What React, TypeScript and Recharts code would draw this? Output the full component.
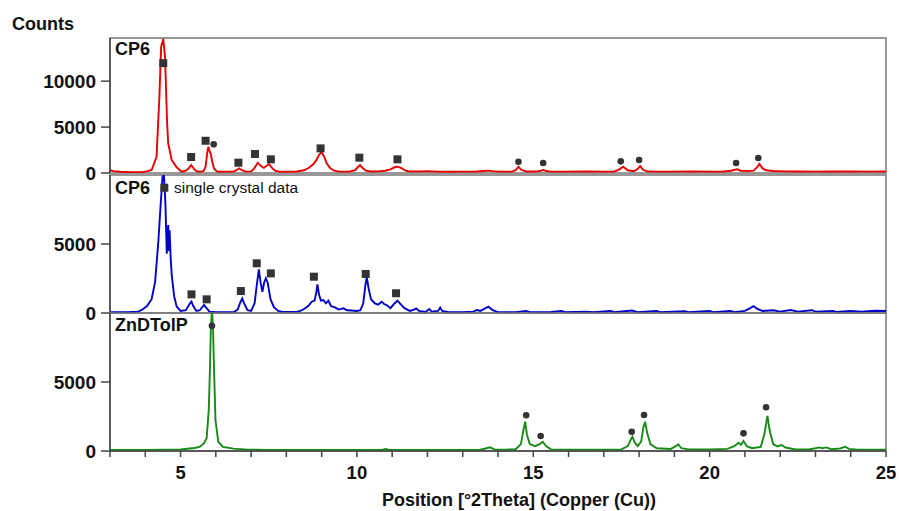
import { ComposedChart, Line, Scatter, XAxis, YAxis, ReferenceArea } from 'recharts';

// 2Theta / counts pairs
const cp6Pattern: [number, number][] = [
  [3.0, 300], [3.1, 200], [3.3, 130], [3.6, 90], [3.9, 100], [4.05, 180], [4.18, 330], [4.32, 1770],
  [4.4, 8290], [4.45, 13730], [4.51, 14600], [4.56, 12640], [4.59, 9020], [4.62, 5400], [4.65, 3230],
  [4.75, 1410], [4.89, 620], [5.03, 140], [5.15, 250], [5.22, 450], [5.3, 870], [5.38, 450], [5.45, 200],
  [5.55, 130], [5.65, 200], [5.71, 700], [5.76, 2300], [5.79, 2860], [5.82, 2400], [5.86, 2050],
  [5.9, 1200], [5.95, 500], [6.02, 200], [6.1, 130], [6.5, 150], [6.58, 300], [6.66, 510], [6.74, 300],
  [6.85, 150], [7.0, 180], [7.08, 450], [7.19, 1120], [7.28, 750], [7.36, 550], [7.44, 800], [7.51, 980],
  [7.58, 600], [7.68, 250], [7.8, 150], [8.0, 140], [8.3, 160], [8.5, 300], [8.65, 600], [8.76, 950],
  [8.85, 1400], [8.93, 2000], [9.0, 2250], [9.07, 1800], [9.15, 1000], [9.25, 500], [9.35, 250],
  [9.5, 150], [9.8, 170], [9.95, 300], [10.03, 650], [10.09, 870], [10.15, 600], [10.25, 250],
  [10.4, 170], [10.6, 180], [10.8, 250], [10.95, 400], [11.08, 650], [11.15, 690], [11.25, 550],
  [11.38, 250], [11.5, 170], [11.8, 180], [12.0, 190], [12.3, 150], [12.6, 140], [13.0, 150],
  [13.4, 170], [13.6, 220], [13.72, 260], [13.85, 200], [14.0, 150], [14.4, 150], [14.5, 300],
  [14.58, 690], [14.66, 350], [14.8, 170], [15.1, 170], [15.22, 250], [15.28, 330], [15.36, 220],
  [15.5, 150], [16.0, 150], [16.5, 160], [17.0, 150], [17.3, 170], [17.42, 350], [17.55, 690],
  [17.68, 300], [17.85, 200], [17.95, 400], [18.03, 760], [18.11, 350], [18.25, 160], [18.5, 150],
  [19.0, 150], [19.5, 160], [20.0, 150], [20.4, 170], [20.6, 250], [20.72, 350], [20.79, 400],
  [20.88, 250], [21.1, 200], [21.25, 250], [21.34, 600], [21.41, 980], [21.5, 500], [21.6, 300],
  [21.8, 220], [22.1, 180], [22.5, 160], [23.0, 150], [23.5, 170], [24.0, 160], [24.5, 150], [25.0, 160],
];

const singleCrystal: [number, number][] = [
  [3.0, 50], [3.5, 50], [3.8, 100], [3.9, 220], [4.05, 500], [4.18, 1000], [4.28, 2270], [4.37, 5170],
  [4.44, 8000], [4.49, 9900], [4.53, 9950], [4.57, 8000], [4.61, 4300], [4.65, 6380], [4.67, 4500],
  [4.69, 6000], [4.72, 4000], [4.75, 2750], [4.82, 1200], [4.89, 460], [5.0, 150], [5.15, 200],
  [5.22, 500], [5.27, 700], [5.31, 820], [5.36, 500], [5.45, 150], [5.55, 200], [5.62, 450], [5.67, 580],
  [5.72, 400], [5.82, 100], [6.0, 50], [6.5, 50], [6.62, 250], [6.7, 800], [6.75, 1060], [6.8, 700],
  [6.9, 200], [7.0, 150], [7.1, 700], [7.16, 2000], [7.22, 3170], [7.27, 2200], [7.32, 1540],
  [7.37, 2200], [7.42, 2510], [7.47, 2200], [7.55, 1000], [7.65, 400], [7.77, 150], [7.9, 80],
  [8.3, 80], [8.45, 200], [8.53, 340], [8.62, 500], [8.72, 820], [8.8, 900], [8.85, 1500], [8.88, 2080],
  [8.93, 1300], [8.98, 900], [9.05, 940], [9.12, 700], [9.19, 890], [9.27, 500], [9.38, 410],
  [9.48, 250], [9.55, 300], [9.62, 340], [9.72, 200], [9.85, 180], [10.0, 145], [10.1, 200],
  [10.18, 700], [10.24, 2000], [10.28, 2590], [10.33, 1800], [10.4, 1000], [10.51, 700], [10.6, 600],
  [10.7, 820], [10.77, 650], [10.84, 580], [10.95, 350], [11.05, 650], [11.15, 890], [11.25, 600],
  [11.35, 350], [11.5, 150], [11.62, 250], [11.68, 340], [11.76, 150], [11.95, 80], [12.05, 290],
  [12.12, 100], [12.3, 150], [12.36, 400], [12.42, 150], [12.6, 60], [13.0, 60], [13.3, 100],
  [13.4, 220], [13.5, 150], [13.65, 350], [13.73, 460], [13.85, 200], [14.0, 60], [14.5, 60],
  [14.8, 150], [14.9, 60], [15.5, 70], [15.8, 150], [15.9, 60], [16.5, 100], [16.7, 60], [17.2, 150],
  [17.3, 60], [17.8, 180], [17.95, 60], [18.5, 150], [18.6, 60], [19.3, 130], [19.4, 60], [20.0, 150],
  [20.1, 60], [20.6, 150], [20.7, 60], [21.0, 150], [21.15, 350], [21.24, 500], [21.35, 300],
  [21.5, 150], [21.8, 200], [22.0, 100], [22.3, 220], [22.5, 100], [22.9, 200], [23.0, 100],
  [23.5, 150], [23.6, 80], [24.0, 150], [24.3, 100], [24.7, 160], [25.0, 150],
];

const znDTolP: [number, number][] = [
  [3.0, 80], [4.0, 80], [5.0, 120], [5.13, 150], [5.4, 220], [5.55, 310], [5.66, 550], [5.74, 920],
  [5.8, 2970], [5.835, 6110], [5.86, 9000], [5.89, 10200], [5.92, 9000], [5.95, 5870], [5.99, 2250],
  [6.07, 670], [6.2, 300], [6.5, 170], [6.9, 100], [7.5, 80], [8.5, 80], [10.7, 80], [10.82, 150],
  [10.9, 80], [12.0, 80], [13.5, 90], [13.65, 180], [13.77, 270], [13.9, 120], [14.2, 100], [14.5, 130],
  [14.65, 500], [14.72, 1500], [14.77, 2120], [14.82, 1200], [14.9, 500], [15.05, 350], [15.18, 500],
  [15.27, 670], [15.36, 350], [15.5, 120], [16.0, 100], [17.0, 100], [17.5, 120], [17.68, 350],
  [17.76, 800], [17.81, 1040], [17.88, 600], [17.96, 350], [18.06, 700], [18.12, 1700], [18.17, 2120],
  [18.23, 1300], [18.32, 500], [18.5, 200], [18.9, 150], [19.04, 350], [19.11, 480], [19.2, 200],
  [19.4, 120], [20.0, 110], [20.5, 150], [20.7, 350], [20.82, 600], [20.89, 450], [20.96, 720],
  [21.05, 350], [21.2, 200], [21.45, 300], [21.55, 1200], [21.64, 2540], [21.7, 1500], [21.8, 500],
  [21.92, 330], [22.04, 430], [22.15, 250], [22.4, 130], [22.8, 110], [23.0, 200], [23.1, 260],
  [23.2, 200], [23.3, 260], [23.45, 130], [23.7, 180], [23.84, 310], [23.95, 150], [24.2, 100], [25.0, 100],
];

// reflection markers
const cp6Squares: [number, number][] = [
  [4.51, 11960], [5.3, 1740], [5.71, 3510], [6.64, 1120], [7.11, 2070], [7.56, 1490], [8.97, 2680],
  [10.07, 1670], [11.15, 1490],
];
const cp6Circles: [number, number][] = [
  [5.94, 3120], [14.58, 1230], [15.28, 1090], [17.48, 1270], [18.0, 1410], [20.75, 1090], [21.38, 1630],
];
const crystalSquares: [number, number][] = [
  [4.54, 9080], [5.31, 1350], [5.74, 990], [6.71, 1590], [7.16, 3600], [7.56, 2870], [8.78, 2630],
  [10.25, 2830], [11.11, 1430],
];
const znCircles: [number, number][] = [
  [5.89, 9080], [14.8, 2590], [15.21, 1090], [17.79, 1400], [18.14, 2610], [20.96, 1280], [21.6, 3170],
];

const xTicks = [3, 4, 5, 6, 7, 8, 9, 10, 11, 12, 13, 14, 15, 16, 17, 18, 19, 20, 21, 22, 23, 24, 25];
const xLabels = [5, 10, 15, 20, 25];
const yTicksTop = [0, 5000, 10000];
const yTicks = [0, 5000];

const FONT = '"Liberation Sans", Arial, sans-serif';
const W = 899;
const PLOT_LEFT = 110;
const PLOT_RIGHT = 886;

const toPts = (arr: [number, number][]) => arr.map(([x, y]) => ({ x, y }));

const Square = (p: any) => <rect x={p.cx - 4} y={p.cy - 4} width={8} height={8} fill="#333" />;
const Dot = (p: any) => <circle cx={p.cx} cy={p.cy} r={3.3} fill="#333" />;

interface PanelProps {
  top: number;
  plotH: number;
  yMax: number;
  ticks: number[];
  line: [number, number][];
  color: string;
  squares?: [number, number][];
  circles?: [number, number][];
  showX?: boolean;
}

function Panel({ top, plotH, yMax, ticks, line, color, squares, circles, showX }: PanelProps) {
  const pad = 10;
  const xAxisH = showX ? 50 : 0;
  return (
    <div style={{ position: 'absolute', left: 0, top: top - pad }}>
      <ComposedChart
        width={W}
        height={plotH + pad * 2 + xAxisH}
        margin={{ top: pad, right: W - PLOT_RIGHT, bottom: pad, left: 10 }}
      >
        <XAxis
          type="number"
          dataKey="x"
          domain={[3, 25]}
          allowDataOverflow
          ticks={xTicks}
          interval={0}
          hide={!showX}
          height={xAxisH}
          tickSize={6}
          tickMargin={9}
          tickFormatter={(v: number) => (xLabels.includes(v) ? String(v) : '')}
          tick={{ fill: '#111', fontSize: 18.5, fontWeight: 'bold', fontFamily: FONT }}
          axisLine={{ stroke: '#444', strokeWidth: 1.5 }}
          tickLine={{ stroke: '#444', strokeWidth: 1.5 }}
        />
        <YAxis
          type="number"
          dataKey="y"
          domain={[0, yMax]}
          allowDataOverflow
          ticks={ticks}
          interval={0}
          width={PLOT_LEFT - 10}
          tickSize={9}
          tickMargin={5}
          tick={{ fill: '#111', fontSize: 19, fontWeight: 'bold', fontFamily: FONT }}
          axisLine={{ stroke: '#444', strokeWidth: 1.5 }}
          tickLine={{ stroke: '#444', strokeWidth: 1.5 }}
        />
        <ReferenceArea x1={3} x2={25} y1={0} y2={yMax} fill="none" stroke="#777" strokeWidth={1.5} ifOverflow="visible" />
        <Line
          data={toPts(line)}
          dataKey="y"
          type="linear"
          stroke={color}
          strokeWidth={1.9}
          dot={false}
          activeDot={false}
          isAnimationActive={false}
        />
        {squares && (
          <Scatter data={toPts(squares)} dataKey="y" shape={Square} isAnimationActive={false} />
        )}
        {circles && (
          <Scatter data={toPts(circles)} dataKey="y" shape={Dot} isAnimationActive={false} />
        )}
      </ComposedChart>
    </div>
  );
}

export default function App() {
  const txt = { fontFamily: FONT, fill: '#111' };
  return (
    <div style={{ position: 'absolute', left: 0, top: 0, width: W, height: 511, background: '#fff' }}>
      <Panel top={38} plotH={135} yMax={14700} ticks={yTicksTop} line={cp6Pattern} color="#e60000"
        squares={cp6Squares} circles={cp6Circles} />
      <Panel top={175} plotH={138} yMax={10000} ticks={yTicks} line={singleCrystal} color="#0000c8"
        squares={crystalSquares} />
      <Panel top={313} plotH={138} yMax={10000} ticks={yTicks} line={znDTolP} color="#178a17"
        circles={znCircles} showX />
      <svg width={W} height={511} style={{ position: 'absolute', left: 0, top: 0, pointerEvents: 'none' }}>
        <text x={12} y={30} fontSize={18} fontWeight="bold" {...txt}>Counts</text>
        <text x={115} y={55} fontSize={18} fontWeight="bold" {...txt}>CP6</text>
        <text x={115} y={194} fontSize={18} fontWeight="bold" {...txt}>CP6</text>
        <text x={174} y={193} fontSize={15.5} {...txt}>single crystal data</text>
        <text x={115} y={331} fontSize={18} fontWeight="bold" {...txt}>ZnDTolP</text>
        <text x={519} y={506} fontSize={18} fontWeight="bold" textAnchor="middle" {...txt}>
          Position [°2Theta] (Copper (Cu))
        </text>
      </svg>
    </div>
  );
}
